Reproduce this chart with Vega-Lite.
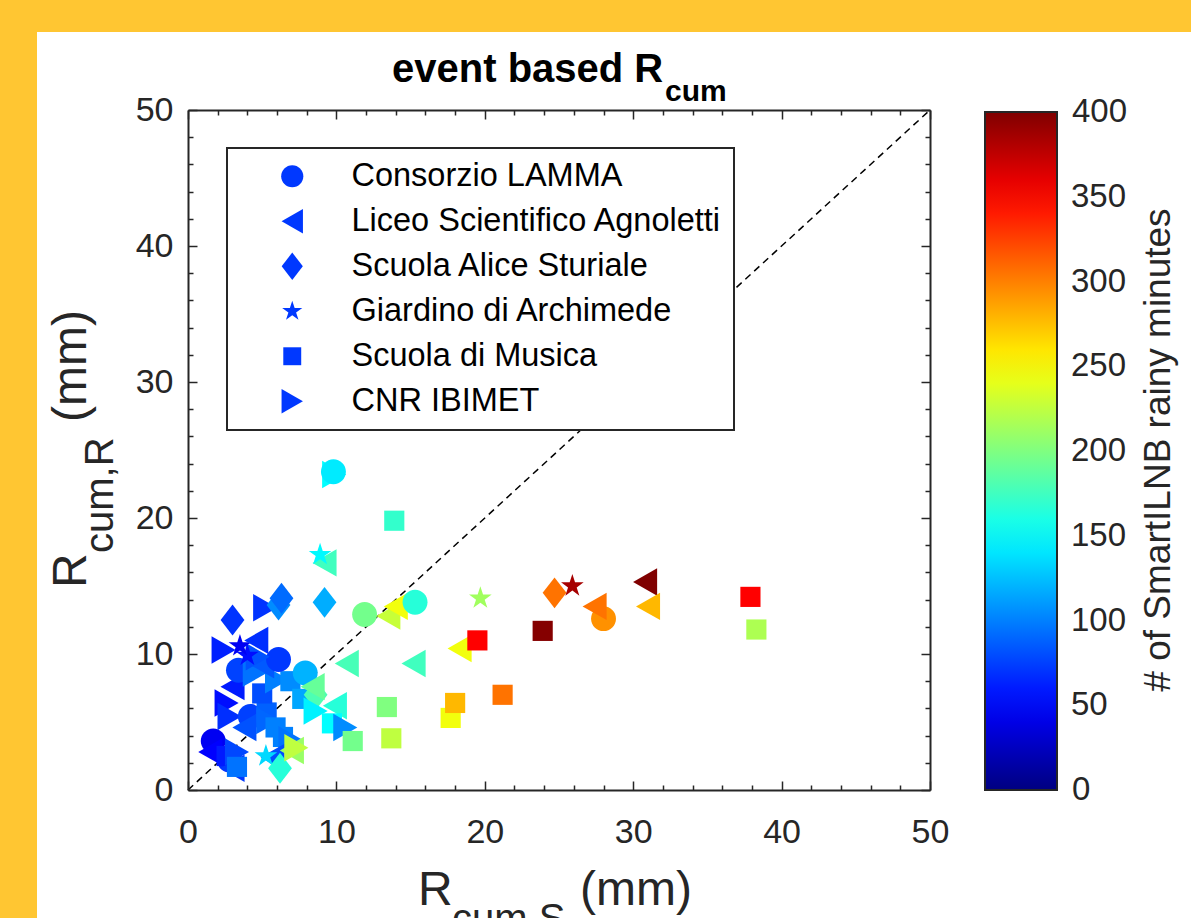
{
  "$schema": "https://vega.github.io/schema/vega-lite/v6.json",
  "width": 742,
  "height": 680,
  "autosize": "none",
  "padding": {"left": 188, "top": 110, "right": 261, "bottom": 128},
  "background": "#FFC632",
  "config": {
    "font": "Liberation Sans",
    "view": {"stroke": null},
    "legend": {"strokeWidth": 2},
    "axis": {
      "domainColor": "#262626",
      "domainWidth": 2,
      "tickColor": "#262626",
      "tickWidth": 1.5,
      "labelColor": "#262626",
      "labelFontSize": 34,
      "labelFont": "Liberation Sans",
      "grid": false,
      "title": null
    }
  },
  "datasets": {
    "pts": [
      {"rcum_s": 1.7, "rcum_r": 3.6, "station": "Consorzio LAMMA", "minutes": 45},
      {"rcum_s": 1.5, "rcum_r": 2.8, "station": "Liceo Scientifico Agnoletti", "minutes": 50},
      {"rcum_s": 2.8, "rcum_r": 2.2, "station": "Consorzio LAMMA", "minutes": 68},
      {"rcum_s": 2.6, "rcum_r": 2.5, "station": "Scuola di Musica", "minutes": 60},
      {"rcum_s": 3.3, "rcum_r": 2.8, "station": "CNR IBIMET", "minutes": 78},
      {"rcum_s": 3.0, "rcum_r": 1.6, "station": "Liceo Scientifico Agnoletti", "minutes": 72},
      {"rcum_s": 3.3, "rcum_r": 1.7, "station": "Scuola di Musica", "minutes": 95},
      {"rcum_s": 2.6, "rcum_r": 6.4, "station": "CNR IBIMET", "minutes": 55},
      {"rcum_s": 2.8, "rcum_r": 5.4, "station": "CNR IBIMET", "minutes": 68},
      {"rcum_s": 4.2, "rcum_r": 5.4, "station": "Consorzio LAMMA", "minutes": 75},
      {"rcum_s": 3.8, "rcum_r": 4.6, "station": "Liceo Scientifico Agnoletti", "minutes": 82},
      {"rcum_s": 5.3, "rcum_r": 5.7, "station": "Scuola di Musica", "minutes": 88},
      {"rcum_s": 5.4, "rcum_r": 5.1, "station": "CNR IBIMET", "minutes": 90},
      {"rcum_s": 5.9, "rcum_r": 4.6, "station": "Scuola di Musica", "minutes": 100},
      {"rcum_s": 6.4, "rcum_r": 3.9, "station": "Scuola di Musica", "minutes": 100},
      {"rcum_s": 6.9, "rcum_r": 3.7, "station": "CNR IBIMET", "minutes": 95},
      {"rcum_s": 5.7, "rcum_r": 2.4, "station": "Liceo Scientifico Agnoletti", "minutes": 80},
      {"rcum_s": 3.0, "rcum_r": 7.6, "station": "Liceo Scientifico Agnoletti", "minutes": 60},
      {"rcum_s": 5.0, "rcum_r": 7.1, "station": "Scuola di Musica", "minutes": 80},
      {"rcum_s": 6.0, "rcum_r": 8.1, "station": "CNR IBIMET", "minutes": 100},
      {"rcum_s": 6.9, "rcum_r": 8.0, "station": "Scuola di Musica", "minutes": 105},
      {"rcum_s": 7.7, "rcum_r": 6.7, "station": "Scuola di Musica", "minutes": 115},
      {"rcum_s": 3.4, "rcum_r": 8.8, "station": "Consorzio LAMMA", "minutes": 76},
      {"rcum_s": 4.5, "rcum_r": 8.6, "station": "CNR IBIMET", "minutes": 95},
      {"rcum_s": 5.0, "rcum_r": 9.2, "station": "Liceo Scientifico Agnoletti", "minutes": 85},
      {"rcum_s": 6.1, "rcum_r": 9.6, "station": "Consorzio LAMMA", "minutes": 72},
      {"rcum_s": 4.7, "rcum_r": 9.8, "station": "CNR IBIMET", "minutes": 82},
      {"rcum_s": 4.0, "rcum_r": 9.9, "station": "Giardino di Archimede", "minutes": 55},
      {"rcum_s": 2.4, "rcum_r": 10.3, "station": "CNR IBIMET", "minutes": 62},
      {"rcum_s": 3.5, "rcum_r": 10.6, "station": "Giardino di Archimede", "minutes": 45},
      {"rcum_s": 4.6, "rcum_r": 11.0, "station": "Liceo Scientifico Agnoletti", "minutes": 68},
      {"rcum_s": 3.0, "rcum_r": 12.5, "station": "Scuola Alice Sturiale", "minutes": 70},
      {"rcum_s": 5.2, "rcum_r": 13.4, "station": "CNR IBIMET", "minutes": 70},
      {"rcum_s": 6.1, "rcum_r": 13.6, "station": "Scuola Alice Sturiale", "minutes": 105},
      {"rcum_s": 6.3, "rcum_r": 14.1, "station": "Scuola Alice Sturiale", "minutes": 92},
      {"rcum_s": 7.9, "rcum_r": 8.6, "station": "Consorzio LAMMA", "minutes": 120},
      {"rcum_s": 8.6, "rcum_r": 7.0, "station": "Scuola Alice Sturiale", "minutes": 180},
      {"rcum_s": 8.4, "rcum_r": 7.6, "station": "Liceo Scientifico Agnoletti", "minutes": 190},
      {"rcum_s": 8.6, "rcum_r": 5.8, "station": "CNR IBIMET", "minutes": 145},
      {"rcum_s": 9.9, "rcum_r": 6.2, "station": "Liceo Scientifico Agnoletti", "minutes": 165},
      {"rcum_s": 9.7, "rcum_r": 4.9, "station": "Scuola di Musica", "minutes": 150},
      {"rcum_s": 10.6, "rcum_r": 4.6, "station": "CNR IBIMET", "minutes": 105},
      {"rcum_s": 5.25, "rcum_r": 2.5, "station": "Giardino di Archimede", "minutes": 135},
      {"rcum_s": 6.2, "rcum_r": 1.6, "station": "Scuola Alice Sturiale", "minutes": 165},
      {"rcum_s": 7.0, "rcum_r": 2.9, "station": "Liceo Scientifico Agnoletti", "minutes": 210},
      {"rcum_s": 7.3, "rcum_r": 3.1, "station": "CNR IBIMET", "minutes": 225},
      {"rcum_s": 9.85, "rcum_r": 23.2, "station": "CNR IBIMET", "minutes": 150},
      {"rcum_s": 9.8, "rcum_r": 23.4, "station": "Consorzio LAMMA", "minutes": 142},
      {"rcum_s": 13.9, "rcum_r": 19.8, "station": "Scuola di Musica", "minutes": 170},
      {"rcum_s": 9.2, "rcum_r": 16.7, "station": "Liceo Scientifico Agnoletti", "minutes": 175},
      {"rcum_s": 8.9, "rcum_r": 17.3, "station": "Giardino di Archimede", "minutes": 148},
      {"rcum_s": 9.2, "rcum_r": 13.8, "station": "Scuola Alice Sturiale", "minutes": 118},
      {"rcum_s": 11.9, "rcum_r": 12.9, "station": "Consorzio LAMMA", "minutes": 195},
      {"rcum_s": 13.5, "rcum_r": 12.8, "station": "Liceo Scientifico Agnoletti", "minutes": 228},
      {"rcum_s": 14.0, "rcum_r": 13.5, "station": "Liceo Scientifico Agnoletti", "minutes": 245},
      {"rcum_s": 15.3, "rcum_r": 13.8, "station": "Consorzio LAMMA", "minutes": 165},
      {"rcum_s": 19.7, "rcum_r": 14.1, "station": "Giardino di Archimede", "minutes": 213},
      {"rcum_s": 24.7, "rcum_r": 14.5, "station": "Scuola Alice Sturiale", "minutes": 305},
      {"rcum_s": 25.9, "rcum_r": 15.0, "station": "Giardino di Archimede", "minutes": 385},
      {"rcum_s": 28.0, "rcum_r": 12.6, "station": "Consorzio LAMMA", "minutes": 293},
      {"rcum_s": 27.4, "rcum_r": 13.5, "station": "Liceo Scientifico Agnoletti", "minutes": 305},
      {"rcum_s": 30.8, "rcum_r": 15.3, "station": "Liceo Scientifico Agnoletti", "minutes": 400},
      {"rcum_s": 31.0, "rcum_r": 13.5, "station": "Liceo Scientifico Agnoletti", "minutes": 278},
      {"rcum_s": 37.9, "rcum_r": 14.2, "station": "Scuola di Musica", "minutes": 350},
      {"rcum_s": 38.3, "rcum_r": 11.8, "station": "Scuola di Musica", "minutes": 218},
      {"rcum_s": 23.9, "rcum_r": 11.7, "station": "Scuola di Musica", "minutes": 398},
      {"rcum_s": 18.3, "rcum_r": 10.4, "station": "Liceo Scientifico Agnoletti", "minutes": 245},
      {"rcum_s": 19.5, "rcum_r": 11.0, "station": "Scuola di Musica", "minutes": 350},
      {"rcum_s": 21.2, "rcum_r": 7.0, "station": "Scuola di Musica", "minutes": 305},
      {"rcum_s": 17.7, "rcum_r": 5.3, "station": "Scuola di Musica", "minutes": 245},
      {"rcum_s": 18.0, "rcum_r": 6.4, "station": "Scuola di Musica", "minutes": 278},
      {"rcum_s": 10.7, "rcum_r": 9.3, "station": "Liceo Scientifico Agnoletti", "minutes": 178},
      {"rcum_s": 15.2, "rcum_r": 9.3, "station": "Liceo Scientifico Agnoletti", "minutes": 175},
      {"rcum_s": 13.4, "rcum_r": 6.1, "station": "Scuola di Musica", "minutes": 200},
      {"rcum_s": 13.7, "rcum_r": 3.8, "station": "Scuola di Musica", "minutes": 225},
      {"rcum_s": 11.1, "rcum_r": 3.6, "station": "Scuola di Musica", "minutes": 195}
    ]
  },
  "layer": [
    {
      "data": {"values": [{}]},
      "mark": {"type": "rect", "fill": "white", "clip": false},
      "encoding": {
        "x": {"datum": -10.175, "type": "quantitative", "scale": {"domain": [0, 50], "nice": false, "zero": false}, "axis": null},
        "x2": {"datum": 100},
        "y": {"datum": 55.74, "type": "quantitative", "scale": {"domain": [0, 50], "nice": false, "zero": false}, "axis": null},
        "y2": {"datum": -100}
      }
    },
    {
      "data": {"values": [{}]},
      "mark": {"type": "rule", "color": "#000000", "strokeWidth": 1.5, "strokeDash": [7, 5]},
      "encoding": {
        "x": {"datum": 0, "type": "quantitative", "scale": {"domain": [0, 50], "nice": false, "zero": false},
          "axis": {"orient": "top", "zindex": 2, "values": [0,2,4,6,8,10,12,14,16,18,20,22,24,26,28,30,32,34,36,38,40,42,44,46,48,50], "labels": false,
            "tickSize": {"condition": {"test": "datum.value % 10 === 0", "value": -9}, "value": -5}}},
        "x2": {"datum": 50},
        "y": {"datum": 0, "type": "quantitative", "scale": {"domain": [0, 50], "nice": false, "zero": false},
          "axis": {"orient": "right", "zindex": 2, "values": [0,2,4,6,8,10,12,14,16,18,20,22,24,26,28,30,32,34,36,38,40,42,44,46,48,50], "labels": false,
            "tickSize": {"condition": {"test": "datum.value % 10 === 0", "value": -9}, "value": -5}}},
        "y2": {"datum": 50}
      }
    },
    {
      "data": {"name": "pts"},
      "mark": {"type": "point", "filled": true, "opacity": 1, "size": 784, "strokeWidth": 0},
      "encoding": {
        "x": {"field": "rcum_s", "type": "quantitative", "scale": {"domain": [0, 50], "nice": false, "zero": false},
          "axis": {"orient": "bottom", "zindex": 2, "values": [0,2,4,6,8,10,12,14,16,18,20,22,24,26,28,30,32,34,36,38,40,42,44,46,48,50],
            "labelExpr": "datum.value % 10 === 0 ? datum.label : ''", "labelPadding": 34, "labelFlush": false, "labelOverlap": false,
            "tickSize": {"condition": {"test": "datum.value % 10 === 0", "value": -9}, "value": -5}}},
        "y": {"field": "rcum_r", "type": "quantitative", "scale": {"domain": [0, 50], "nice": false, "zero": false},
          "axis": {"orient": "left", "zindex": 2, "values": [0,2,4,6,8,10,12,14,16,18,20,22,24,26,28,30,32,34,36,38,40,42,44,46,48,50],
            "labelExpr": "datum.value % 10 === 0 ? datum.label : ''", "labelPadding": 24, "labelFlush": false, "labelOverlap": false,
            "tickSize": {"condition": {"test": "datum.value % 10 === 0", "value": -9}, "value": -5}}},
        "shape": {
          "field": "station", "type": "nominal",
          "scale": {
            "domain": ["Consorzio LAMMA", "Liceo Scientifico Agnoletti", "Scuola Alice Sturiale", "Giardino di Archimede", "Scuola di Musica", "CNR IBIMET"],
            "range": [
              "M0.89,0A0.89,0.89,0,1,1,-0.89,0A0.89,0.89,0,1,1,0.89,0Z",
              "M-0.86,0L0.86,-0.98L0.86,0.98Z",
              "M-0.85,0L0,-1.1L0.85,0L0,1.1Z",
              "M0,-0.85L0.191,-0.263L0.808,-0.263L0.309,0.1L0.5,0.688L0,0.325L-0.5,0.688L-0.309,0.1L-0.808,-0.263L-0.191,-0.263Z",
              "M-0.72,-0.72L0.72,-0.72L0.72,0.72L-0.72,0.72Z",
              "M0.86,0L-0.86,-0.98L-0.86,0.98Z"
            ]
          },
          "legend": {
            "orient": "none", "legendX": 39, "legendY": 38, "title": null,
            "labelFontSize": 32.5, "labelColor": "#000000", "labelFont": "Liberation Sans", "labelLimit": 600,
            "symbolSize": 620, "symbolFillColor": "#0038FF", "symbolStrokeWidth": 0, "symbolOpacity": 1,
            "symbolOffset": 37, "labelOffset": 43, "padding": 12, "rowPadding": 12,
            "strokeColor": "#262626", "fillColor": "#FFFFFF"
          }
        },
        "color": {
          "field": "minutes", "type": "quantitative",
          "scale": {"domain": [0, 50, 150, 250, 350, 400], "range": ["#000080", "#0000FF", "#00FFFF", "#FFFF00", "#FF0000", "#800000"], "interpolate": "rgb"},
          "legend": {
            "orient": "none", "legendX": 797, "legendY": 2, "direction": "vertical",
            "gradientLength": 678, "gradientThickness": 72,
            "gradientStrokeColor": "#262626", "gradientStrokeWidth": 2,
            "values": [50, 100, 150, 200, 250, 300, 350],
            "labelFontSize": 33, "labelColor": "#262626", "labelFont": "Liberation Sans", "labelOffset": 14, "labelOverlap": false,
            "title": null,
            "padding": 0
          }
        }
      }
    },
    {
      "data": {"values": [{}]},
      "mark": {"type": "text", "text": "400", "fontSize": 33, "align": "left", "baseline": "middle", "color": "#262626", "font": "Liberation Sans", "clip": false},
      "encoding": {
        "x": {"datum": 59.57, "type": "quantitative", "scale": {"domain": [0, 50], "nice": false, "zero": false}, "axis": null},
        "y": {"datum": 49.85, "type": "quantitative", "scale": {"domain": [0, 50], "nice": false, "zero": false}, "axis": null}
      }
    },
    {
      "data": {"values": [{}]},
      "mark": {"type": "text", "text": "0", "fontSize": 33, "align": "left", "baseline": "middle", "color": "#262626", "font": "Liberation Sans", "clip": false},
      "encoding": {
        "x": {"datum": 59.57, "type": "quantitative", "scale": {"domain": [0, 50], "nice": false, "zero": false}, "axis": null},
        "y": {"datum": 0, "type": "quantitative", "scale": {"domain": [0, 50], "nice": false, "zero": false}, "axis": null}
      }
    },
    {
      "data": {"values": [{}]},
      "mark": {"type": "text", "text": "# of SmartILNB rainy minutes", "fontSize": 37, "angle": 270, "align": "center", "baseline": "alphabetic", "color": "#262626", "font": "Liberation Sans", "clip": false},
      "encoding": {
        "x": {"datum": 66.17, "type": "quantitative", "scale": {"domain": [0, 50], "nice": false, "zero": false}, "axis": null},
        "y": {"datum": 25, "type": "quantitative", "scale": {"domain": [0, 50], "nice": false, "zero": false}, "axis": null}
      }
    },
    {
      "data": {"values": [{}]},
      "mark": {"type": "text", "text": "event based R", "fontSize": 40, "fontWeight": "bold", "align": "left", "baseline": "alphabetic", "color": "#000000", "font": "Liberation Sans"},
      "encoding": {
        "x": {"datum": 13.75, "type": "quantitative", "scale": {"domain": [0, 50], "nice": false, "zero": false}, "axis": null},
        "y": {"datum": 52.06, "type": "quantitative", "scale": {"domain": [0, 50], "nice": false, "zero": false}, "axis": null}
      }
    },
    {
      "data": {"values": [{}]},
      "mark": {"type": "text", "text": "cum", "fontSize": 30, "fontWeight": "bold", "align": "left", "baseline": "alphabetic", "color": "#000000", "font": "Liberation Sans"},
      "encoding": {
        "x": {"datum": 32.14, "type": "quantitative", "scale": {"domain": [0, 50], "nice": false, "zero": false}, "axis": null},
        "y": {"datum": 50.66, "type": "quantitative", "scale": {"domain": [0, 50], "nice": false, "zero": false}, "axis": null}
      }
    },
    {
      "data": {"values": [{}]},
      "mark": {"type": "text", "text": "R", "fontSize": 48, "angle": 270, "align": "left", "baseline": "alphabetic", "color": "#262626", "font": "Liberation Sans"},
      "encoding": {
        "x": {"datum": -6.87, "type": "quantitative", "scale": {"domain": [0, 50], "nice": false, "zero": false}, "axis": null},
        "y": {"datum": 14.85, "type": "quantitative", "scale": {"domain": [0, 50], "nice": false, "zero": false}, "axis": null}
      }
    },
    {
      "data": {"values": [{}]},
      "mark": {"type": "text", "text": "cum,R", "fontSize": 40, "angle": 270, "align": "left", "baseline": "alphabetic", "color": "#262626", "font": "Liberation Sans"},
      "encoding": {
        "x": {"datum": -5.05, "type": "quantitative", "scale": {"domain": [0, 50], "nice": false, "zero": false}, "axis": null},
        "y": {"datum": 17.43, "type": "quantitative", "scale": {"domain": [0, 50], "nice": false, "zero": false}, "axis": null}
      }
    },
    {
      "data": {"values": [{}]},
      "mark": {"type": "text", "text": "(mm)", "fontSize": 48, "angle": 270, "align": "left", "baseline": "alphabetic", "color": "#262626", "font": "Liberation Sans"},
      "encoding": {
        "x": {"datum": -6.87, "type": "quantitative", "scale": {"domain": [0, 50], "nice": false, "zero": false}, "axis": null},
        "y": {"datum": 27.06, "type": "quantitative", "scale": {"domain": [0, 50], "nice": false, "zero": false}, "axis": null}
      }
    },
    {
      "data": {"values": [{}]},
      "mark": {"type": "text", "text": "R", "fontSize": 48, "align": "left", "baseline": "alphabetic", "color": "#262626", "font": "Liberation Sans"},
      "encoding": {
        "x": {"datum": 15.5, "type": "quantitative", "scale": {"domain": [0, 50], "nice": false, "zero": false}, "axis": null},
        "y": {"datum": -8.46, "type": "quantitative", "scale": {"domain": [0, 50], "nice": false, "zero": false}, "axis": null}
      }
    },
    {
      "data": {"values": [{}]},
      "mark": {"type": "text", "text": "cum,S", "fontSize": 40, "align": "left", "baseline": "alphabetic", "color": "#262626", "font": "Liberation Sans"},
      "encoding": {
        "x": {"datum": 17.79, "type": "quantitative", "scale": {"domain": [0, 50], "nice": false, "zero": false}, "axis": null},
        "y": {"datum": -10.44, "type": "quantitative", "scale": {"domain": [0, 50], "nice": false, "zero": false}, "axis": null}
      }
    },
    {
      "data": {"values": [{}]},
      "mark": {"type": "text", "text": "(mm)", "fontSize": 48, "align": "left", "baseline": "alphabetic", "color": "#262626", "font": "Liberation Sans"},
      "encoding": {
        "x": {"datum": 26.42, "type": "quantitative", "scale": {"domain": [0, 50], "nice": false, "zero": false}, "axis": null},
        "y": {"datum": -8.46, "type": "quantitative", "scale": {"domain": [0, 50], "nice": false, "zero": false}, "axis": null}
      }
    }
  ],
  "resolve": {"axis": {"x": "independent", "y": "independent"}}
}
